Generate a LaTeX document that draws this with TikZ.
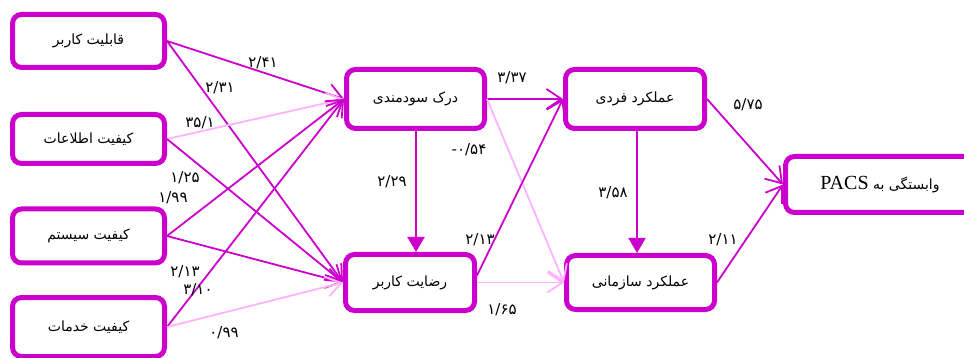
\documentclass[tikz,border=0pt]{standalone}
\usepackage{fontspec}
\newfontfamily\fa[Script=Arabic]{DejaVu Sans}
\newfontfamily\lserif{Liberation Serif}
\TeXXeTstate=1
\usetikzlibrary{arrows.meta,calc}
\definecolor{mag}{HTML}{CC00CC}
\definecolor{lpink}{HTML}{FFB3FF}
\begin{document}
\begin{tikzpicture}[x=1pt,y=-1pt,
  box/.style={draw=mag, line width=5pt, rounded corners=9pt, fill=white,
    font=\fa\fontsize{14}{16}\selectfont, inner sep=0pt},
  lab/.style={font=\fa\fontsize{15}{17}\selectfont, inner sep=0pt, text=black},
  conn/.style={draw=mag, line width=1.8pt, -{Straight Barb[length=15pt,width=20pt]}},
  lconn/.style={draw=lpink, line width=1.8pt, -{Straight Barb[length=15pt,width=20pt]}},
  down/.style={draw=mag, line width=2pt, -{Triangle[length=15pt,width=17pt]}}]
\useasboundingbox (0,0) rectangle (964,358);
\clip (0,0) rectangle (964,358);
% left column
\node[box, minimum width=152pt, minimum height=53pt] (A) at (88.5,41) {\beginR قابلیت کاربر\endR};
\node[box, minimum width=152pt, minimum height=49pt] (B) at (88.5,139) {\beginR کیفیت اطلاعات\endR};
\node[box, minimum width=152pt, minimum height=54pt] (S) at (88.5,236) {\beginR کیفیت سیستم\endR};
\node[box, minimum width=152pt, minimum height=59pt] (K) at (88.5,327) {\beginR کیفیت خدمات\endR};
% middle
\node[box, minimum width=138pt, minimum height=59pt] (C) at (415.5,99) {\beginR درک سودمندی\endR};
\node[box, minimum width=129pt, minimum height=56pt] (D) at (410,282.5) {\beginR رضایت کاربر\endR};
% right
\node[box, minimum width=139pt, minimum height=59pt] (E) at (635,99) {\beginR عملکرد فردی\endR};
\node[box, minimum width=148pt, minimum height=54pt] (F) at (640.5,282.5) {\beginR عملکرد سازمانی\endR};
\node[box, minimum width=189pt, minimum height=56pt] (G) at (880,184.5) {\beginR وابستگی به \beginL{\lserif\fontsize{20}{22}\selectfont PACS}\endL\endR};
% connectors left -> middle
\draw[conn] (A.east) -- (C.west);
\draw[conn] (A.east) -- (D.west);
\draw[lconn] (B.east) -- (C.west);
\draw[conn] (B.east) -- (D.west);
\draw[conn] (S.east) -- (C.west);
\draw[conn] (S.east) -- (D.west);
\draw[conn] (K.east) -- (C.west);
\draw[lconn] (K.east) -- (D.west);
% middle -> right
\draw[conn] (C.east) -- (E.west);
\draw[lconn] (C.east) -- (F.west);
\draw[down] ([xshift=0.5pt]C.south) -- ([xshift=0.5pt]C.south |- D.north);
\draw[conn] ([yshift=7pt]D.east) -- (E.west);
\draw[lconn] (D.east) -- (F.west);
\draw[down] ([xshift=2pt]E.south) -- ([xshift=2pt]E.south |- F.north);
\draw[conn] (E.east) -- (G.west);
\draw[conn] (F.east) -- (G.west);
% labels
\node[lab] (l1) at (263,63) {۲/۴۱};
\node[lab] (l2) at (220,88) {۲/۳۱};
\node[lab] (l3) at (200,123) {۳۵/۱};
\node[lab] (l4) at (185,178) {۱/۲۵};
\node[lab] (l5) at (173,198) {۱/۹۹};
\node[lab] (l6) at (185,272) {۲/۱۳};
\node[lab] (l7) at (198,290) {۳/۱۰};
\node[lab] (l8) at (224,333) {۰/۹۹};
\node[lab] (l9) at (512,78) {۳/۳۷};
\node[lab] (l10) at (469,150) {\mbox{-}\mbox{۰/۵۴}};
\node[lab] (l11) at (392,182) {۲/۲۹};
\node[lab] (l12) at (480,240) {۲/۱۳};
\node[lab] (l13) at (502,310) {۱/۶۵};
\node[lab] (l14) at (613,193) {۳/۵۸};
\node[lab] (l15) at (748,105) {۵/۷۵};
\node[lab] (l16) at (723,240) {۲/۱۱};
\end{tikzpicture}
\end{document}
